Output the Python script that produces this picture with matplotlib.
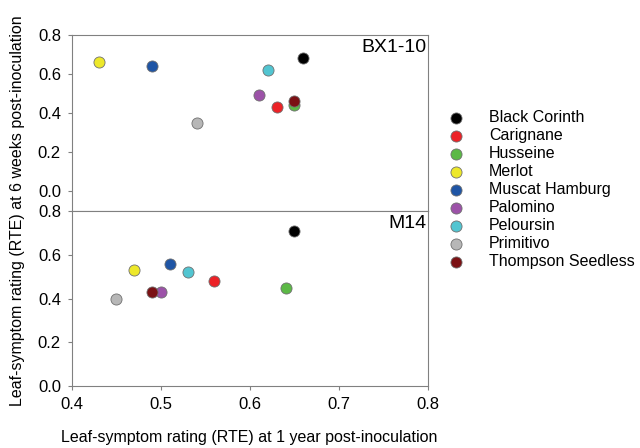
import matplotlib.pyplot as plt

cultivars = ['Black Corinth', 'Carignane', 'Husseine', 'Merlot', 'Muscat Hamburg',
             'Palomino', 'Peloursin', 'Primitivo', 'Thompson Seedless']
colors = ['#000000', '#ec2227', '#5cb946', '#ede82a', '#1f55a5',
          '#9c52a8', '#52c5d1', '#b7b7b7', '#7b1114']

# BX1-10
bx_x = [0.66, 0.63, 0.65, 0.43, 0.49, 0.61, 0.62, 0.54, 0.65]
bx_y = [0.68, 0.43, 0.44, 0.66, 0.64, 0.49, 0.62, 0.35, 0.46]
# M14
m14_x = [0.65, 0.56, 0.64, 0.47, 0.51, 0.50, 0.53, 0.45, 0.49]
m14_y = [0.71, 0.48, 0.45, 0.53, 0.56, 0.43, 0.52, 0.40, 0.43]

yticks = [0.0, 0.2, 0.4, 0.6, 0.8]
xticks = [0.4, 0.5, 0.6, 0.7, 0.8]

plt.rcParams['font.family'] = ['Liberation Sans', 'DejaVu Sans']
fig = plt.figure(figsize=(6.4, 4.48), dpi=100)
ax1 = fig.add_axes([0.1125, 0.529, 0.556, 0.393])
ax2 = fig.add_axes([0.1125, 0.138, 0.556, 0.391])

for ax in (ax1, ax2):
    for sp in ax.spines.values():
        sp.set_color('#808080')
    ax.tick_params(color='#808080', labelsize=12, length=3, pad=5)
    ax.set_xlim(0.4, 0.8)
    ax.set_yticks(yticks)
    ax.set_yticklabels(['%.1f' % v for v in yticks])

for i in range(len(cultivars)):
    ax1.scatter(bx_x[i], bx_y[i], s=64, color=colors[i], edgecolor='#707070',
                linewidth=0.6, zorder=3, label=cultivars[i])
    ax2.scatter(m14_x[i], m14_y[i], s=64, color=colors[i], edgecolor='#707070',
                linewidth=0.6, zorder=3)

ax1.set_ylim(-0.103, 0.8)
ax1.set_xticks([])
ax2.set_ylim(0.0, 0.8)
ax2.set_xticks(xticks)
ax2.set_xticklabels(['%.1f' % v for v in xticks])

ax1.text(0.995, 0.975, 'BX1-10', transform=ax1.transAxes, ha='right', va='top', fontsize=14)
ax2.text(0.995, 0.975, 'M14', transform=ax2.transAxes, ha='right', va='top', fontsize=14)

fig.text(0.39, 0.024, 'Leaf-symptom rating (RTE) at 1 year post-inoculation',
         ha='center', va='center', fontsize=11.5)
fig.text(0.028, 0.53, 'Leaf-symptom rating (RTE) at 6 weeks post-inoculation',
         ha='center', va='center', rotation=90, fontsize=11.5)

handles, labels = ax1.get_legend_handles_labels()
fig.legend(handles, labels, loc='upper left', bbox_to_anchor=(0.677, 0.769),
           frameon=False, fontsize=11.5, handletextpad=1.1, labelspacing=0.19,
           borderaxespad=0)

fig.savefig('out.png', dpi=100)
